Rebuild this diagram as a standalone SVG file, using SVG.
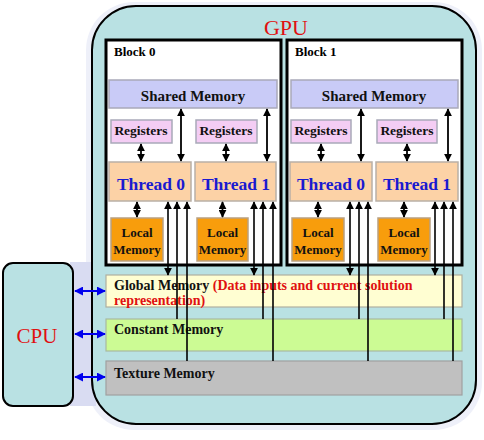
<svg xmlns="http://www.w3.org/2000/svg" width="484" height="440" viewBox="0 0 484 440">
<style>
.t{font-family:"Liberation Serif","Times New Roman",serif;font-weight:bold}
.blk{fill:#fff;stroke:#000;stroke-width:3}
.sh{fill:#c9cbf7;stroke:#a9a9b9;stroke-width:1.5}
.rg{fill:#f4cdf4;stroke:#a9a9b9;stroke-width:1.5}
.th{fill:#fcd2a6;stroke:#b9b0a6;stroke-width:1.5}
.lm{fill:#f89d0c;stroke:#b9a080;stroke-width:1.5}
.ln{stroke:#000;stroke-width:1.6}
.da{stroke:#000;stroke-width:1.8}
.ba{stroke:#0000ee;stroke-width:2}
</style>
<defs>
<marker id="ah" viewBox="0 0 10 10" refX="9" refY="5" markerWidth="8" markerHeight="8" markerUnits="userSpaceOnUse" orient="auto-start-reverse"><path d="M0,0 L10,5 L0,10 z" fill="#000"/></marker>
<marker id="bh" viewBox="0 0 10 10" refX="9" refY="5" markerWidth="9" markerHeight="9" markerUnits="userSpaceOnUse" orient="auto-start-reverse"><path d="M0,0 L10,5 L0,10 z" fill="#0000ee"/></marker>
</defs>
<rect width="484" height="440" fill="#fff"/>
<rect x="86" y="2" width="396" height="428" rx="48" fill="#eef0f9"/>
<rect x="70" y="262" width="26" height="144" fill="#d9dcf2"/>
<g id="gpu">
<rect x="92" y="6" width="384" height="418" rx="44" fill="#b9e1e3" stroke="#000" stroke-width="2"/>
<text class="t" x="286" y="35" font-size="22" fill="#e01010" text-anchor="middle" style="font-weight:normal">GPU</text>
</g>
<g id="cpu">
<rect x="3" y="263" width="70" height="143" rx="10" fill="#b9e1e3" stroke="#000" stroke-width="2"/>
<text class="t" x="37" y="343" font-size="21" fill="#e01010" text-anchor="middle" style="font-weight:normal">CPU</text>
</g>
<g id="block0">
<rect class="blk" x="106" y="40" width="175" height="225"/>
<text class="t" x="114" y="56" font-size="13">Block 0</text>
</g>
<g id="block1">
<rect class="blk" x="287" y="40" width="175" height="225"/>
<text class="t" x="295" y="56" font-size="13">Block 1</text>
</g>
<g id="shared0"><rect class="sh" x="109" y="80" width="168" height="28"/><text class="t" x="193" y="101" font-size="15" text-anchor="middle" fill="#111">Shared Memory</text></g>
<g id="shared1"><rect class="sh" x="291" y="80" width="167" height="28"/><text class="t" x="374" y="101" font-size="15" text-anchor="middle" fill="#111">Shared Memory</text></g>
<g id="reg00"><rect class="rg" x="111" y="120" width="61" height="23"/><text class="t" x="141" y="135" font-size="13.5" text-anchor="middle" fill="#111">Registers</text></g>
<g id="reg01"><rect class="rg" x="196" y="120" width="61" height="23"/><text class="t" x="226" y="135" font-size="13.5" text-anchor="middle" fill="#111">Registers</text></g>
<g id="reg10"><rect class="rg" x="291" y="120" width="60" height="23"/><text class="t" x="321" y="135" font-size="13.5" text-anchor="middle" fill="#111">Registers</text></g>
<g id="reg11"><rect class="rg" x="377" y="120" width="60" height="23"/><text class="t" x="407" y="135" font-size="13.5" text-anchor="middle" fill="#111">Registers</text></g>
<g id="thr00"><rect class="th" x="109" y="162" width="82" height="39"/><text class="t" x="151" y="190" font-size="17.5" text-anchor="middle" fill="#1a1ad0">Thread 0</text></g>
<g id="thr01"><rect class="th" x="195" y="162" width="81" height="39"/><text class="t" x="236" y="190" font-size="17.5" text-anchor="middle" fill="#1a1ad0">Thread 1</text></g>
<g id="thr10"><rect class="th" x="290" y="162" width="82" height="39"/><text class="t" x="331" y="190" font-size="17.5" text-anchor="middle" fill="#1a1ad0">Thread 0</text></g>
<g id="thr11"><rect class="th" x="376" y="162" width="82" height="39"/><text class="t" x="417" y="190" font-size="17.5" text-anchor="middle" fill="#1a1ad0">Thread 1</text></g>
<g id="loc00"><rect class="lm" x="111" y="218" width="52" height="43"/><text class="t" x="137" y="237" font-size="13" text-anchor="middle" fill="#111">Local</text><text class="t" x="137" y="254" font-size="13" text-anchor="middle" fill="#111">Memory</text></g>
<g id="loc01"><rect class="lm" x="197" y="218" width="51" height="43"/><text class="t" x="222.5" y="237" font-size="13" text-anchor="middle" fill="#111">Local</text><text class="t" x="222.5" y="254" font-size="13" text-anchor="middle" fill="#111">Memory</text></g>
<g id="loc10"><rect class="lm" x="292" y="218" width="52" height="43"/><text class="t" x="318" y="237" font-size="13" text-anchor="middle" fill="#111">Local</text><text class="t" x="318" y="254" font-size="13" text-anchor="middle" fill="#111">Memory</text></g>
<g id="loc11"><rect class="lm" x="378" y="218" width="52" height="43"/><text class="t" x="404" y="237" font-size="13" text-anchor="middle" fill="#111">Local</text><text class="t" x="404" y="254" font-size="13" text-anchor="middle" fill="#111">Memory</text></g>
<g id="global"><rect x="106" y="275" width="356" height="32" fill="#fffed2" stroke="#b0b0a0" stroke-width="1.2"/>
<text class="t" x="114" y="290" font-size="14"><tspan fill="#111">Global Memory </tspan><tspan fill="#e01010">(Data inputs and current solution</tspan></text>
<text class="t" x="114" y="305" font-size="14" fill="#e01010">representation)</text></g>
<g id="constant"><rect x="106" y="319" width="356" height="32" fill="#ccfb94" stroke="#a9b9a0" stroke-width="1.2"/>
<text class="t" x="114" y="334" font-size="14" fill="#111">Constant Memory</text></g>
<g id="texture"><rect x="106" y="361" width="356" height="34" fill="#c0c0c0" stroke="#a0a0a0" stroke-width="1.2"/>
<text class="t" x="114" y="378" font-size="14" fill="#111">Texture Memory</text></g>
<g id="connectors">
<g class="da" marker-start="url(#ah)" marker-end="url(#ah)">
<line x1="181" y1="109" x2="181" y2="161"/><line x1="267" y1="109" x2="267" y2="161"/>
<line x1="361" y1="109" x2="361" y2="161"/><line x1="448" y1="109" x2="448" y2="161"/>
<line x1="141" y1="144" x2="141" y2="161"/><line x1="226" y1="144" x2="226" y2="161"/>
<line x1="321" y1="144" x2="321" y2="161"/><line x1="407" y1="144" x2="407" y2="161"/>
<line x1="137" y1="202" x2="137" y2="217"/><line x1="222.5" y1="202" x2="222.5" y2="217"/>
<line x1="318" y1="202" x2="318" y2="217"/><line x1="404" y1="202" x2="404" y2="217"/>
</g>
<g class="ln" marker-start="url(#ah)" marker-end="url(#ah)">
<line x1="168" y1="202" x2="168" y2="275"/><line x1="254" y1="202" x2="254" y2="275"/>
<line x1="350" y1="202" x2="350" y2="275"/><line x1="435" y1="202" x2="435" y2="275"/>
</g>
<g class="ln" marker-start="url(#ah)">
<line x1="177" y1="202" x2="177" y2="319"/><line x1="263" y1="202" x2="263" y2="319"/>
<line x1="359" y1="202" x2="359" y2="319"/><line x1="444" y1="202" x2="444" y2="319"/>
<line x1="187" y1="202" x2="187" y2="361"/><line x1="273" y1="202" x2="273" y2="361"/>
<line x1="368" y1="202" x2="368" y2="361"/><line x1="453" y1="202" x2="453" y2="361"/>
</g>
<g class="ba" marker-start="url(#bh)" marker-end="url(#bh)">
<line x1="75" y1="291" x2="105" y2="291"/><line x1="75" y1="334" x2="105" y2="334"/><line x1="75" y1="377" x2="105" y2="377"/>
</g>
</g>
</svg>
